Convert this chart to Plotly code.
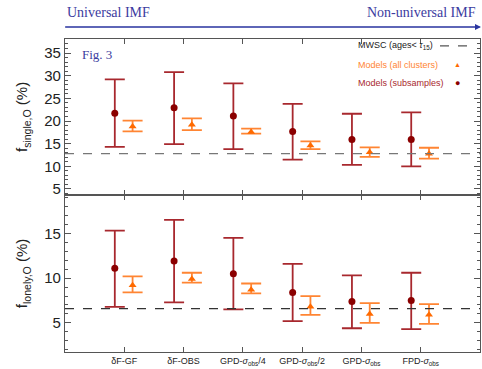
import plotly.graph_objects as go
import numpy as np

categories = ["δF-GF", "δF-OBS", "GPD-<i>σ</i><sub>obs</sub>/4", "GPD-<i>σ</i><sub>obs</sub>/2",
              "GPD-<i>σ</i><sub>obs</sub>", "FPD-<i>σ</i><sub>obs</sub>"]

# f_single,O (%) - top panel
single_sub_val = [21.7, 22.9, 21.1, 17.7, 15.9, 15.9]
single_sub_hi = [29.2, 30.8, 28.3, 23.8, 21.6, 21.9]
single_sub_lo = [14.3, 14.9, 13.8, 11.5, 10.3, 10.0]
single_all_val = [18.8, 19.2, 17.6, 14.6, 13.1, 12.8]
single_all_hi = [20.1, 20.6, 18.3, 15.5, 14.2, 14.1]
single_all_lo = [17.7, 18.0, 17.2, 13.8, 12.1, 11.7]
single_mwsc = 12.8

# f_lonely,O (%) - bottom panel
lonely_sub_val = [11.1, 11.9, 10.5, 8.4, 7.4, 7.5]
lonely_sub_hi = [15.3, 16.5, 14.5, 11.6, 10.3, 10.6]
lonely_sub_lo = [6.8, 7.3, 6.5, 5.2, 4.4, 4.3]
lonely_all_val = [9.2, 9.9, 8.7, 6.8, 6.0, 5.9]
lonely_all_hi = [10.2, 10.6, 9.4, 8.0, 7.2, 7.1]
lonely_all_lo = [8.4, 9.5, 8.3, 5.9, 5.0, 4.9]
lonely_mwsc = 6.6

SUB_COLOR = "#a8282e"
SUB_MARK = "#8b0000"
ALL_COLOR = "#ff8533"
ALL_MARK = "#ff6a00"
BLUE = "#3b3ba0"

idx = np.arange(len(categories))
off_sub, off_all = -0.16, 0.14

fig = go.Figure()

def add_set(val, hi, lo, xoff, color, mcolor, symbol, msize, yaxis):
    val = np.array(val); hi = np.array(hi); lo = np.array(lo)
    fig.add_trace(go.Scatter(
        x=idx + xoff, y=val, mode="markers", xaxis="x" if yaxis == "y" else "x2", yaxis=yaxis,
        marker=dict(color=mcolor, symbol=symbol, size=msize),
        error_y=dict(type="data", symmetric=False, array=hi - val, arrayminus=val - lo,
                     color=color, thickness=1.8, width=10),
        showlegend=False, cliponaxis=False, hoverinfo="skip"))

add_set(single_sub_val, single_sub_hi, single_sub_lo, off_sub, SUB_COLOR, SUB_MARK, "circle", 7, "y")
add_set(single_all_val, single_all_hi, single_all_lo, off_all, ALL_COLOR, ALL_MARK, "triangle-up", 7, "y")
add_set(lonely_sub_val, lonely_sub_hi, lonely_sub_lo, off_sub, SUB_COLOR, SUB_MARK, "circle", 7, "y2")
add_set(lonely_all_val, lonely_all_hi, lonely_all_lo, off_all, ALL_COLOR, ALL_MARK, "triangle-up", 7, "y2")

# MWSC dashed reference lines
fig.add_shape(type="line", xref="x domain", yref="y", x0=0, x1=1, y0=single_mwsc, y1=single_mwsc,
              line=dict(color="#777777", width=1.3, dash="dash"))
fig.add_shape(type="line", xref="x2 domain", yref="y2", x0=0, x1=1, y0=lonely_mwsc, y1=lonely_mwsc,
              line=dict(color="#333333", width=1.3, dash="dash"))

axis_common = dict(showline=True, linecolor="#555555", linewidth=1.1, mirror="allticks",
                   ticks="inside", tickcolor="#555555", showgrid=False, zeroline=False)

fig.update_layout(
    width=482, height=369,
    margin=dict(l=65, r=2, t=39, b=17),
    paper_bgcolor="white", plot_bgcolor="white",
    font=dict(family="Liberation Sans, Arial, sans-serif", color="#222222"),
    xaxis=dict(range=[-1, 6], domain=[0, 1], anchor="y", tickvals=idx.tolist(), showticklabels=False,
               ticklen=5, **axis_common),
    xaxis2=dict(range=[-1, 6], domain=[0, 1], anchor="y2", tickvals=idx.tolist(), ticktext=categories,
                ticklen=5, tickfont=dict(size=9), **axis_common),
    yaxis=dict(range=[3.7, 38.1], domain=[0.502, 1], anchor="x", tickvals=[5, 10, 15, 20, 25, 30, 35],
               ticklen=6, tickfont=dict(size=15),
               minor=dict(dtick=1, tick0=0, ticklen=3, ticks="inside", tickcolor="#555555"),
               title=dict(text="f<sub>single,O</sub> (%)", font=dict(size=15), standoff=12),
               **axis_common),
    yaxis2=dict(range=[1.75, 19.3], domain=[0, 0.502], anchor="x2", tickvals=[5, 10, 15],
                ticklen=6, tickfont=dict(size=15),
                minor=dict(dtick=1, tick0=0, ticklen=3, ticks="inside", tickcolor="#555555"),
                title=dict(text="f<sub>lonely,O</sub> (%)", font=dict(size=15), standoff=12),
                **axis_common),
)

serif = "Liberation Serif, Times New Roman, serif"
fig.add_annotation(xref="paper", yref="paper", x=0.0, y=1.085, text="Universal IMF", showarrow=False,
                   xanchor="left", yanchor="middle", font=dict(family=serif, size=14, color=BLUE))
fig.add_annotation(xref="paper", yref="paper", x=0.995, y=1.085, text="Non-universal IMF", showarrow=False,
                   xanchor="right", yanchor="middle", font=dict(family=serif, size=14, color=BLUE))
fig.add_annotation(xref="paper", yref="paper", x=1.004, y=1.038, ax=-418, ay=0, text="", showarrow=True,
                   arrowhead=2, arrowsize=0.8, arrowwidth=1.5, arrowcolor="#2a35a0")
fig.add_annotation(xref="paper", yref="paper", x=0.036, y=0.949, text="Fig. 3", showarrow=False,
                   xanchor="left", yanchor="middle", font=dict(family=serif, size=13, color=BLUE))

# legend (text left, symbol right)
lx = (356 - 65) / 415
fig.add_annotation(xref="paper", yref="paper", x=lx, y=0.978, text="MWSC (ages< <i>τ</i><sub>15</sub>)",
                   showarrow=False, xanchor="left", yanchor="middle", font=dict(size=9, color="#222222"))
fig.add_shape(type="line", xref="paper", yref="paper", x0=(440 - 65) / 415, x1=0.99, y0=0.978, y1=0.978,
              line=dict(color="#555555", width=1.3, dash="dash"))
fig.add_annotation(xref="paper", yref="paper", x=lx, y=0.917, text="Models (all clusters)",
                   showarrow=False, xanchor="left", yanchor="middle", font=dict(size=9, color=ALL_COLOR))
fig.add_annotation(xref="paper", yref="paper", x=(457 - 65) / 415, y=0.917, text="▲",
                   showarrow=False, xanchor="center", yanchor="middle", font=dict(size=7, color=ALL_MARK))
fig.add_annotation(xref="paper", yref="paper", x=lx, y=0.859, text="Models (subsamples)",
                   showarrow=False, xanchor="left", yanchor="middle", font=dict(size=9, color=SUB_COLOR))
fig.add_annotation(xref="paper", yref="paper", x=(457 - 65) / 415, y=0.859, text="●",
                   showarrow=False, xanchor="center", yanchor="middle", font=dict(size=9, color=SUB_MARK))

fig.write_html("out.html", config={"displayModeBar": False},
               post_script="document.body.style.margin='0';document.body.style.overflow='hidden';")
